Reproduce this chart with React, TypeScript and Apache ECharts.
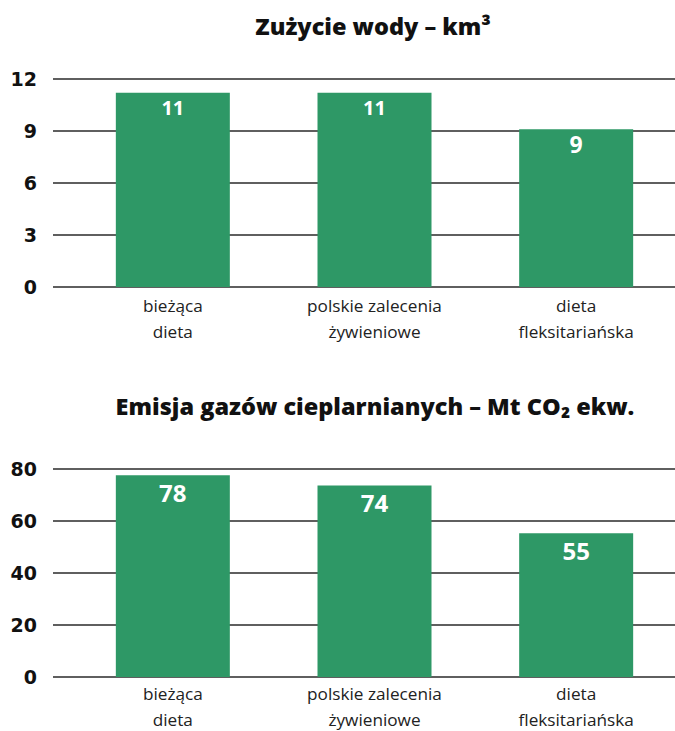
import React, { useEffect, useRef } from "react";
import * as echarts from "echarts";

const categories = ["bieżąca\ndieta", "polskie zalecenia\nżywieniowe", "dieta\nfleksitariańska"];
const waterValues = [11.2, 11.2, 9.1];
const emissionValues = [77.6, 73.7, 55.3];
const waterTitle = "Zużycie wody – km³";
const emissionTitle = "Emisja gazów cieplarnianych – Mt CO₂ ekw.";
const waterAxis = { min: 0, max: 12, interval: 3 };
const emissionAxis = { min: 0, max: 80, interval: 20 };

const GREEN = "#2e9866";

export default function App() {
  const ref = useRef<HTMLDivElement>(null);
  useEffect(() => {
    if (!ref.current) return;
    const chart = echarts.init(ref.current, undefined, { renderer: "svg" });
    const tops = [79, 469];
    const H = 208;
    const axes = [waterAxis, emissionAxis];
    const grids: any[] = [];
    const xAxes: any[] = [];
    const yAxes: any[] = [];
    const series: any[] = [];
    const datasets = [waterValues, emissionValues];
    const labelSizes = [20, 24];
    const catText = { fontFamily: "Open Sans", fontSize: 17.2, color: "#222" };
    tops.forEach((top, i) => {
      const gi = grids.length;
      grids.push({ left: 53, right: 0, top, height: H, outerBoundsMode: "none", containLabel: false });
      grids.push({ left: 72, right: -2, top, height: H, outerBoundsMode: "none", containLabel: false });
      xAxes.push({ gridIndex: gi, type: "value", show: false });
      xAxes.push({
        gridIndex: gi + 1,
        type: "category",
        data: categories,
        axisLine: { show: false },
        axisTick: { show: false },
        axisLabel: {
          ...catText,
          margin: i === 0 ? 2 : 0,
          interval: 0,
          formatter: (v: string) => {
            const parts = v.split("\n");
            return `{a|${parts[0]}}\n{b|${parts[1] ?? ""}}`;
          },
          rich: {
            a: { ...catText, lineHeight: 32 },
            b: { ...catText, lineHeight: 20 },
          },
        },
      });
      yAxes.push({
        gridIndex: gi,
        type: "value",
        min: axes[i].min,
        max: axes[i].max,
        interval: axes[i].interval,
        axisLine: { show: false },
        axisTick: { show: false },
        axisLabel: {
          fontFamily: "DejaVu Sans",
          fontWeight: "bold",
          fontSize: 19,
          color: "#111",
          margin: 16,
        },
        splitLine: { lineStyle: { color: "#2a2a2a", width: 1.6 } },
      });
      yAxes.push({
        gridIndex: gi + 1,
        type: "value",
        min: axes[i].min,
        max: axes[i].max,
        interval: axes[i].interval,
        show: false,
        splitLine: { show: false },
      });
      series.push({
        type: "bar",
        xAxisIndex: gi + 1,
        yAxisIndex: gi + 1,
        barWidth: 114,
        itemStyle: { color: GREEN },
        data: datasets[i].map((v) => ({
          value: v,
          label:
            i === 0 && Math.round(v) < 10
              ? { fontSize: 23, distance: 3 }
              : undefined,
        })),
        label: {
          show: true,
          position: "insideTop",
          distance: 5,
          formatter: (p: any) => String(Math.round(p.value)),
          fontFamily: "Open Sans",
          fontWeight: "bold",
          fontSize: labelSizes[i],
          color: "#fff",
        },
      });
    });
    chart.setOption({
      animation: false,
      backgroundColor: "#fff",
      title: [
        {
          text: waterTitle,
          left: 368,
          top: 9,
          textAlign: "center",
          textStyle: { fontFamily: "Open Sans", fontWeight: 800, fontSize: 23.5, color: "#111" },
        },
        {
          text: emissionTitle,
          left: 370,
          top: 389,
          textAlign: "center",
          textStyle: { fontFamily: "Open Sans", fontWeight: 800, fontSize: 23.5, color: "#111" },
        },
      ],
      grid: grids,
      xAxis: xAxes,
      yAxis: yAxes,
      series,
    });
    return () => chart.dispose();
  }, []);
  return (
    <div
      ref={ref}
      style={{ position: "fixed", left: 0, top: 0, width: 675, height: 731 }}
    />
  );
}
